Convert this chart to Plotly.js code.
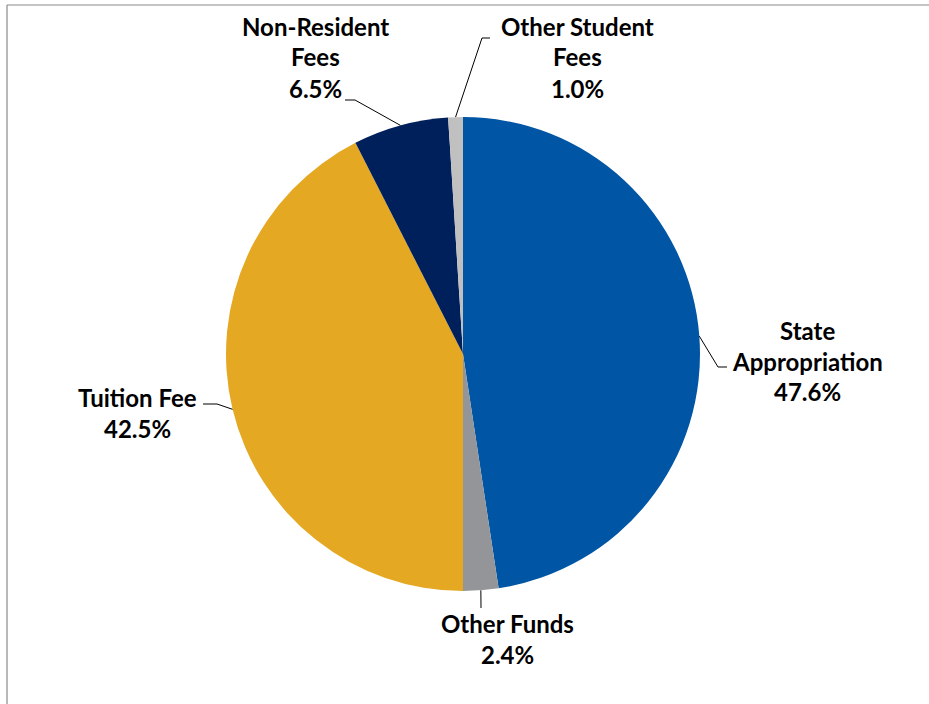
<!DOCTYPE html>
<html>
<head>
<meta charset="utf-8">
<script src="https://cdn.plot.ly/plotly-3.0.1.min.js"></script>
<style>
html,body{margin:0;padding:0;background:#fff;}
#chart{width:929px;height:704px;}
</style>
</head>
<body>
<div id="chart"></div>
<script>
// ---- data ----
const categories = ["State Appropriation", "Other Funds", "Tuition Fee", "Non-Resident Fees", "Other Student Fees"];
const values = [47.6, 2.4, 42.5, 6.5, 1.0];
const labelLines = [
  ["State", "Appropriation", "47.6%"],
  ["Other Funds", "2.4%"],
  ["Tuition Fee", "42.5%"],
  ["Non-Resident", "Fees", "6.5%"],
  ["Other Student", "Fees", "1.0%"]
];
const colors = ["#0055A4", "#939598", "#E5A823", "#00205B", "#C0C0C0"];

// ---- layout geometry (pixels) ----
const W = 929, H = 704;
const cx = 463, cy = 354, R = 237;
// per-label styling: elbow offset, horizontal tail end, text centre
const labelStyle = [
  {elbow:[718,367], tail:[727,367], text:[807,361]},
  {elbow:[481,608], tail:[481,608], text:[507,639]},
  {elbow:[217,404], tail:[203,404], text:[137,413]},
  {elbow:[355,100], tail:[345,100], text:[315,57]},
  {elbow:[482,38],  tail:[490,38],  text:[577,57]}
];
const lineGap = 31;

const px = x => x / W;
const py = y => 1 - y / H;

const total = values.reduce((a,b)=>a+b,0);
const shapes = [];
const annotations = [];
let cum = 0;
values.forEach((v,i)=>{
  const mid = (cum + v/2) / total * 2 * Math.PI;
  cum += v;
  const ax = cx + R * Math.sin(mid);
  const ay = cy - R * Math.cos(mid);
  const s = labelStyle[i];
  const path = `M ${px(ax)} ${py(ay)} L ${px(s.elbow[0])} ${py(s.elbow[1])} L ${px(s.tail[0])} ${py(s.tail[1])}`;
  shapes.push({type:'path', xref:'paper', yref:'paper', path:path, line:{color:'#000', width:1}});
  const lines = labelLines[i];
  lines.forEach((t,k)=>{
    const yy = s.text[1] + (k - (lines.length-1)/2) * lineGap;
    annotations.push({
      xref:'paper', yref:'paper', x:px(s.text[0]), y:py(yy),
      xanchor:'center', yanchor:'middle', showarrow:false,
      text:'<b>'+t+'</b>',
      font:{family:'Lato, "Open Sans", sans-serif', size:24, color:'#000'}
    });
  });
});

// frame lines
shapes.push({type:'line', xref:'paper', yref:'paper', x0:px(7), y0:py(5), x1:1, y1:py(5), line:{color:'#8a8a8a', width:1.2}});
shapes.push({type:'line', xref:'paper', yref:'paper', x0:px(7), y0:py(5), x1:px(7), y1:0, line:{color:'#8a8a8a', width:1.2}});

const trace = {
  type:'pie',
  labels: categories,
  values: values,
  sort:false,
  direction:'clockwise',
  rotation:0,
  marker:{colors:colors, line:{width:0}},
  textinfo:'none',
  hoverinfo:'label+percent',
  domain:{x:[px(cx-R), px(cx+R)], y:[py(cy+R), py(cy-R)]},
  showlegend:false
};

Plotly.newPlot('chart', [trace], {
  width:W, height:H,
  margin:{l:0,r:0,t:0,b:0},
  paper_bgcolor:'#fff',
  showlegend:false,
  shapes:shapes,
  annotations:annotations
}, {displayModeBar:false, staticPlot:true});
</script>
</body>
</html>
